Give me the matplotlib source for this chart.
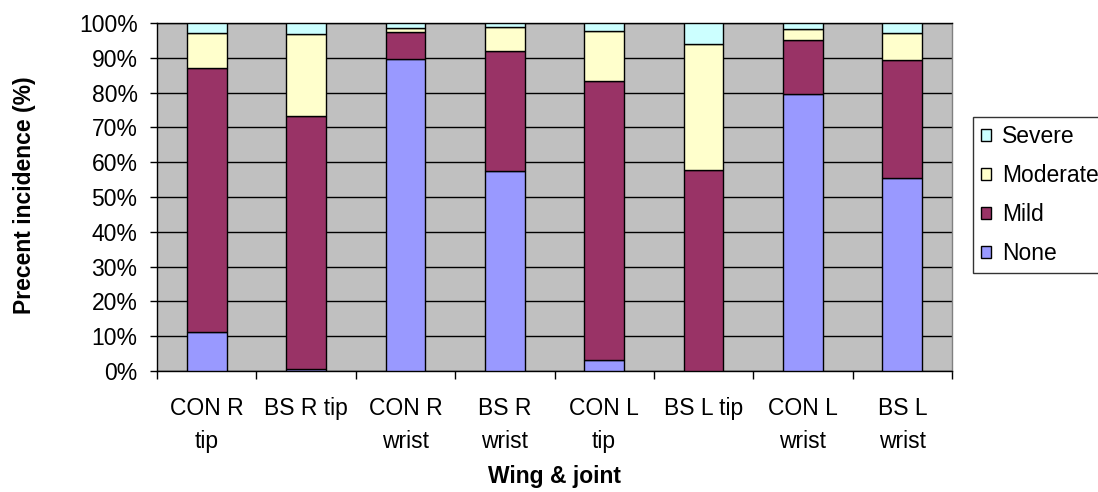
import numpy as np
import matplotlib.pyplot as plt
from matplotlib.patches import Patch

plt.rcParams['font.family'] = ['Liberation Sans', 'DejaVu Sans']

groups = ['CON R\ntip', 'BS R tip', 'CON R\nwrist', 'BS R\nwrist',
          'CON L\ntip', 'BS L tip', 'CON L\nwrist', 'BS L\nwrist']
none = [11.3, 0.6, 89.7, 57.6, 3.2, 0.0, 79.7, 55.4]
mild = [75.9, 72.8, 7.7, 34.4, 80.1, 57.7, 15.4, 33.9]
moderate = [10.0, 23.4, 1.3, 6.8, 14.5, 36.4, 3.2, 7.8]
severe = [2.8, 3.2, 1.3, 1.2, 2.2, 5.9, 1.7, 2.9]

series = [('None', none, '#9999FF'), ('Mild', mild, '#993366'),
          ('Moderate', moderate, '#FFFFCC'), ('Severe', severe, '#CCFFFF')]

fs = 16.5
fig = plt.figure(figsize=(10.98, 4.92), dpi=100)
ax = fig.add_axes([157 / 1098, 1 - 371 / 492, 795 / 1098, 348 / 492])
ax.set_facecolor('#C0C0C0')

# stacked bars, bottom series first
x = np.arange(len(groups))
bottom = np.zeros(len(groups))
for name, vals, col in series:
    ax.bar(x, vals, 0.4, bottom=bottom, color=col, edgecolor='black',
           linewidth=1.0, zorder=3)
    bottom += np.array(vals)

ax.set_xlim(-0.5, len(groups) - 0.5)
ax.set_ylim(0, 100)
ax.set_yticks(np.arange(0, 101, 10))
ax.set_yticklabels(['%d%%' % v for v in range(0, 101, 10)], fontsize=fs)
ax.yaxis.grid(True, color='black', linewidth=1.0, zorder=1)
ax.set_axisbelow(True)

# labels at category centres, tick marks between categories
ax.set_xticks(x)
ax.set_xticklabels(groups, fontsize=fs, linespacing=1.55)
ax.set_xticks(np.arange(-0.5, len(groups)), minor=True)
ax.tick_params(axis='x', which='major', length=0, pad=19)
ax.tick_params(axis='x', which='minor', length=6, width=1.0, direction='out')
ax.tick_params(axis='y', length=5, width=1.0, direction='out', pad=9)

for s in ['left', 'bottom', 'top']:
    ax.spines[s].set_color('black')
    ax.spines[s].set_linewidth(1.0)
ax.spines['right'].set_color('#808080')
ax.spines['right'].set_linewidth(1.0)

fig.text(25 / 1098, 1 - 195 / 492, 'Precent incidence (%)', rotation=90,
         ha='center', va='center', fontsize=fs, fontweight='bold')
fig.text(554 / 1098, 1 - 476 / 492, 'Wing & joint', ha='center',
         va='center', fontsize=fs, fontweight='bold')

handles = [Patch(facecolor=col, edgecolor='black', linewidth=1.0, label=name)
           for name, vals, col in series[::-1]]
leg = fig.legend(handles=handles, loc='upper left',
                 bbox_to_anchor=(973 / 1098, 1 - 117 / 492), fontsize=fs,
                 frameon=True, fancybox=False, handlelength=0.45,
                 handleheight=0.45, handletextpad=0.48, labelspacing=0.7,
                 borderpad=0.35, borderaxespad=0)
leg.get_frame().set_edgecolor('black')
leg.get_frame().set_linewidth(1.0)

fig.savefig('out.png', dpi=100)
